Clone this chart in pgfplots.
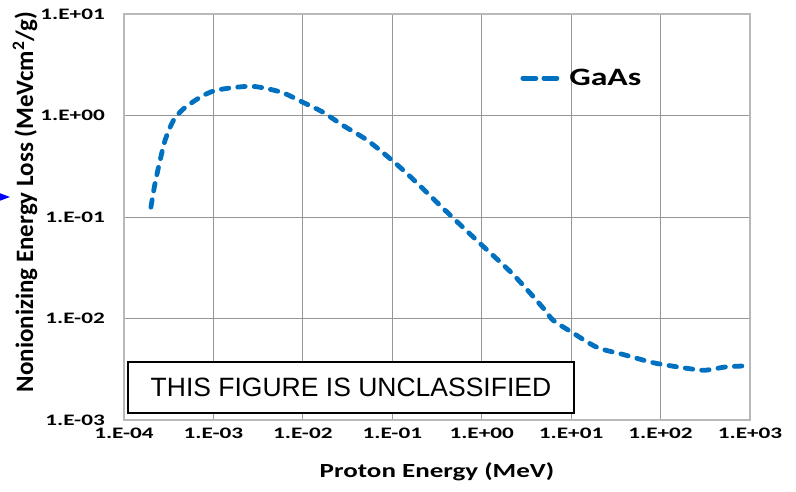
\documentclass[border=0pt]{standalone}
\usepackage{pgfplots}
\pgfplotsset{compat=1.18}
\usepackage{fontspec}
\setmainfont{Carlito}
\newfontfamily\calS{Carlito}[FakeStretch=1.35]
\newfontfamily\calT{Carlito}[FakeStretch=1.45]
\newfontfamily\arialf{Liberation Sans}
\definecolor{gaas}{RGB}{0,112,192}
\definecolor{gridc}{RGB}{150,150,150}
\definecolor{framec}{RGB}{185,185,185}
\begin{document}
\begin{tikzpicture}
\path[use as bounding box] (-124bp,-72bp) rectangle (672bp,420bp);
\begin{axis}[
  at={(0,0)}, anchor=south west,
  scale only axis, width=626bp, height=406bp,
  xmode=log, ymode=log,
  xmin=1e-4, xmax=1e3, ymin=1e-3, ymax=1e1,
  xtick={1e-4,1e-3,1e-2,1e-1,1,1e1,1e2,1e3},
  xticklabels={1.E-04,1.E-03,1.E-02,1.E-01,1.E+00,1.E+01,1.E+02,1.E+03},
  ytick={1e-3,1e-2,1e-1,1,1e1},
  yticklabels={1.E-03,1.E-02,1.E-01,1.E+00,1.E+01},
  xminorticks=false, yminorticks=false,
  grid=major, major grid style={gridc, line width=1bp},
  axis line style={framec, line width=1.5bp},
  major tick length=0pt,
  tick label style={inner sep=0pt, font=\calT\bfseries\fontsize{16bp}{18bp}\selectfont},
  xticklabel style={anchor=north, yshift=-8bp},
  yticklabel style={anchor=east, xshift=-19bp},
  xlabel={Proton Energy (MeV)},
  xlabel style={at={(axis description cs:0.5,-0.128)}, anchor=center, font=\calS\bfseries\fontsize{20bp}{24bp}\selectfont},
  ylabel={Nonionizing Energy Loss (MeVcm$^{\mathbf{2}}$/g)},
  ylabel style={at={(axis description cs:-0.158,0.537)}, anchor=center, rotate=0, font=\bfseries\fontsize{25bp}{28bp}\selectfont},
  legend style={draw=none, fill=none, at={(axis description cs:0.633,0.842)}, anchor=west, inner sep=0pt,
    font=\calS\bfseries\fontsize{25bp}{28bp}\selectfont, nodes={inner xsep=4bp}},
  legend image code/.code={\draw[#1, dash pattern=on 13bp off 8bp] (0bp,0bp) -- (40bp,0bp);},
]
\addplot[gaas, line width=4.8bp, line cap=round, dash pattern=on 7.5bp off 9bp, smooth] coordinates {
(2.0e-4,0.125) (2.22e-4,0.213) (2.53e-4,0.36) (2.88e-4,0.57) (3.56e-4,0.89)
(4.61e-4,1.16) (7.08e-4,1.51) (1e-3,1.74) (1.55e-3,1.87) (2.57e-3,1.94)
(3.63e-3,1.87) (6.03e-3,1.67) (1e-2,1.35) (1.67e-2,1.08) (2.8e-2,0.80)
(5.25e-2,0.57) (0.1,0.36) (0.172,0.234) (0.461,0.101) (1,0.053)
(2.26,0.027) (4.9,0.0126) (6.3,0.0096) (10,0.0074) (19.5,0.0052)
(38.9,0.0044) (70.8,0.0038) (100,0.00355) (234,0.00316) (324,0.0031)
(550,0.00334) (1000,0.00342)
};
\addlegendentry{GaAs}
\node[draw=black, line width=1.5bp, fill=white, minimum width=446bp, minimum height=51bp, inner sep=0pt,
  font=\arialf\fontsize{26.5bp}{30bp}\selectfont] at (axis description cs:0.3626,0.080) {THIS FIGURE IS UNCLASSIFIED};
\end{axis}
\fill[blue] (-130bp,229bp) -- (-114bp,223bp) -- (-130bp,217bp) -- cycle;
\end{tikzpicture}
\end{document}
